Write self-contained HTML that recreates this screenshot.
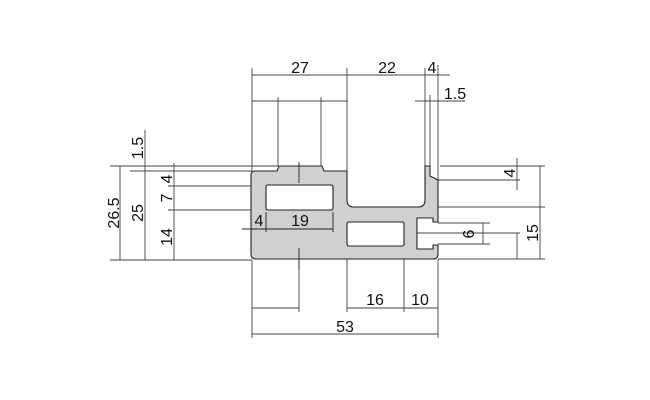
<!DOCTYPE html>
<html><head><style>body{margin:0;background:#fff}svg{display:block}text{font-family:"Liberation Sans",sans-serif;font-size:16px;fill:#111}</style></head><body>
<svg width="650" height="400" viewBox="0 0 650 400" xmlns="http://www.w3.org/2000/svg">
<g stroke="#444" stroke-width="0.9" fill="none">
<line x1="252" y1="68" x2="252" y2="171"/><line x1="347" y1="68" x2="347" y2="171"/>
<line x1="278" y1="97" x2="278" y2="166"/><line x1="321" y1="97" x2="321" y2="166"/>
<line x1="425" y1="68" x2="425" y2="166"/><line x1="430" y1="95" x2="430" y2="166"/>
<line x1="438" y1="65" x2="438" y2="180"/>
<line x1="252" y1="75" x2="450" y2="75"/>
<line x1="252" y1="101" x2="348" y2="101"/>
<line x1="415" y1="101" x2="465" y2="101"/>
<line x1="110" y1="166" x2="278" y2="166"/>
<line x1="130" y1="171" x2="252" y2="171"/>
<line x1="168" y1="186" x2="266" y2="186"/>
<line x1="168" y1="210" x2="266" y2="210"/>
<line x1="110" y1="260" x2="252" y2="260"/>
<line x1="120" y1="166" x2="120" y2="260"/>
<line x1="145" y1="130" x2="145" y2="260"/>
<line x1="174" y1="163" x2="174" y2="260"/>
<line x1="440" y1="166" x2="545" y2="166"/>
<line x1="438" y1="180" x2="520" y2="180"/>
<line x1="438" y1="207" x2="545" y2="207"/>
<line x1="438" y1="223" x2="490" y2="223"/>
<line x1="438" y1="244" x2="490" y2="244"/>
<line x1="412" y1="233" x2="520" y2="233"/>
<line x1="438" y1="259" x2="545" y2="259"/>
<line x1="517" y1="158" x2="517" y2="190"/>
<line x1="540" y1="166" x2="540" y2="259"/>
<line x1="483" y1="223" x2="483" y2="244"/>
<line x1="517" y1="233" x2="517" y2="259"/>
<line x1="252" y1="260" x2="252" y2="338"/><line x1="299" y1="260" x2="299" y2="312"/>
<line x1="347" y1="246" x2="347" y2="312"/><line x1="404" y1="246" x2="404" y2="312"/>
<line x1="438" y1="259" x2="438" y2="338"/>
<line x1="252" y1="308" x2="299" y2="308"/><line x1="347" y1="308" x2="438" y2="308"/>
<line x1="252" y1="334" x2="438" y2="334"/>
</g>
<path d="M255,171 L277,171 L279,166 L322,166 L324,171 L347,171 L347,200 Q347,207 354,207 L418,207 Q425,207 425,200 L425,166 L430,166 L430,176 L438,180 L438,222 L433,222 L433,218 L417,218 L417,249 L433,249 L433,245 L438,245 L438,254 Q438,259 433,259 L256,259 Q251,259 251,254 L251,175 Q251,171 255,171 Z M268,185 L331,185 Q333,185 333,187 L333,208 Q333,210 331,210 L268,210 Q266,210 266,208 L266,187 Q266,185 268,185 Z M349,222 L402,222 Q404,222 404,224 L404,244 Q404,246 402,246 L349,246 Q347,246 347,244 L347,224 Q347,222 349,222 Z" fill="#d0d0d0" fill-rule="evenodd" stroke="#222" stroke-width="1.1"/>
<g stroke="#222" stroke-width="0.9">
<line x1="299" y1="162" x2="299" y2="183"/><line x1="299" y1="248" x2="299" y2="270"/>
<line x1="242" y1="229" x2="333" y2="229"/>
<line x1="266" y1="212" x2="266" y2="232"/><line x1="333" y1="212" x2="333" y2="232"/>
</g>
<text x="300" y="73" text-anchor="middle">27</text>
<text x="387" y="73" text-anchor="middle">22</text>
<text x="432" y="73" text-anchor="middle">4</text>
<text x="455" y="99" text-anchor="middle">1.5</text>
<text x="259" y="226" text-anchor="middle">4</text>
<text x="300" y="226" text-anchor="middle">19</text>
<text x="375" y="305" text-anchor="middle">16</text>
<text x="420" y="305" text-anchor="middle">10</text>
<text x="345" y="332" text-anchor="middle">53</text>
<g text-anchor="middle">
<text transform="translate(119,213) rotate(-90)">26.5</text>
<text transform="translate(143,213) rotate(-90)">25</text>
<text transform="translate(143,148) rotate(-90)">1.5</text>
<text transform="translate(172,179) rotate(-90)">4</text>
<text transform="translate(172,198) rotate(-90)">7</text>
<text transform="translate(172,237) rotate(-90)">14</text>
<text transform="translate(515,173) rotate(-90)">4</text>
<text transform="translate(474,234) rotate(-90)">6</text>
<text transform="translate(538,233) rotate(-90)">15</text>
</g>
</svg>
</body></html>
